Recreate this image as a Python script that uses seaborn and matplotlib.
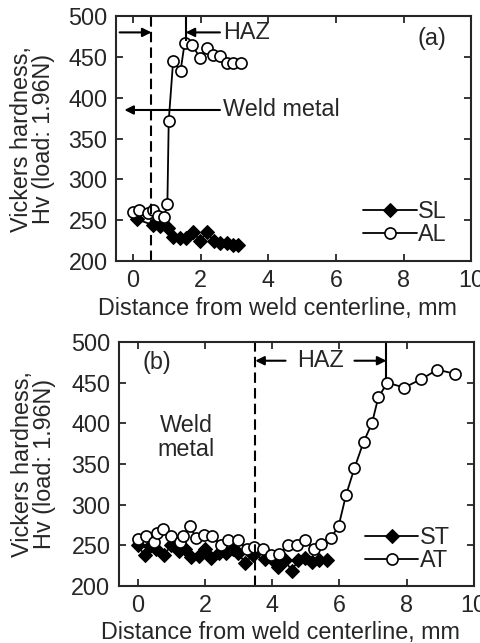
import matplotlib
matplotlib.use("Agg")
import matplotlib.pyplot as plt
import seaborn as sns

# === Data ===
# (a) SL / AL
sl_x = [0.13, 0.6, 0.79, 1.04, 1.19, 1.4, 1.58, 1.78, 1.98, 2.18, 2.4, 2.57, 2.77, 2.97, 3.12]
sl_y = [251, 244, 243, 240, 230, 228, 228, 236, 225, 235, 225, 222, 222, 220, 220]
al_x = [0.0, 0.18, 0.45, 0.6, 0.75, 0.92, 1.02, 1.06, 1.19, 1.41, 1.53, 1.75, 1.98, 2.18, 2.38, 2.57, 2.77, 2.97, 3.2]
al_y = [260, 262, 259, 262, 255, 254, 270, 372, 445, 433, 467, 465, 449, 461, 452, 451, 442, 443, 443]

# (b) ST / AT
st_x = [0.0, 0.21, 0.37, 0.56, 0.78, 1.0, 1.22, 1.42, 1.6, 1.82, 2.0, 2.19, 2.41, 2.63, 2.83, 3.0,
        3.19, 3.42, 3.78, 3.99, 4.19, 4.38, 4.58, 4.78, 4.98, 5.19, 5.41, 5.64]
st_y = [250, 238, 249, 246, 238, 250, 243, 246, 236, 237, 245, 235, 241, 240, 246, 241,
        228, 238, 233, 233, 224, 232, 219, 232, 234, 230, 232, 232]
at_x = [0.0, 0.24, 0.48, 0.58, 0.74, 1.0, 1.25, 1.35, 1.55, 1.74, 1.96, 2.2, 2.48, 2.7, 3.0, 3.24,
        3.47, 3.73, 3.96, 4.2, 4.48, 4.73, 4.98, 5.24, 5.46, 5.75, 5.98, 6.2, 6.45, 6.72, 6.97,
        7.16, 7.43, 7.93, 8.42, 8.92, 9.43]
at_y = [258, 261, 254, 265, 270, 261, 254, 261, 274, 259, 263, 261, 251, 256, 256, 246,
        248, 245, 238, 239, 250, 250, 256, 246, 252, 259, 274, 312, 345, 377, 400,
        432, 450, 444, 454, 466, 461]

# region boundaries (mm)
weld_edge_a, haz_edge_a = 0.55, 1.56
weld_edge_b, haz_edge_b = 3.5, 7.4

FS = 16.8

sns.set_style("ticks")
plt.rcParams["font.family"] = ["Liberation Sans", "DejaVu Sans"]

fig = plt.figure(figsize=(4.81, 6.43), dpi=100)
ax1 = fig.add_axes([0.241, 0.594, 0.739, 0.381])
ax2 = fig.add_axes([0.247, 0.0886, 0.738, 0.3795])

arrow = dict(arrowstyle="-|>", color="black", lw=1.5, mutation_scale=13, shrinkA=0, shrinkB=0)
dash = (0, (5, 2.5))


def draw_pair(ax, dx, dy, dlab, cx, cy, clab):
    sns.lineplot(x=dx, y=dy, ax=ax, sort=False, estimator=None, color="black", lw=1.3,
                 marker="D", markersize=7, markeredgecolor="black", label=dlab)
    sns.lineplot(x=cx, y=cy, ax=ax, sort=False, estimator=None, color="black", lw=1.3,
                 marker="o", markersize=8, markerfacecolor="white", markeredgecolor="black",
                 markeredgewidth=1.2, label=clab)


def style(ax, ylab_x, leg_anchor):
    ax.set_xlim(-0.5, 10)
    ax.set_ylim(200, 500)
    ax.set_xticks(range(0, 11, 2))
    ax.set_yticks(range(200, 501, 50))
    ax.tick_params(direction="in", top=True, right=True, length=5, width=1.3,
                   labelsize=FS, pad=6)
    for s in ax.spines.values():
        s.set_linewidth(1.5)
    ax.set_xlabel("Distance from weld centerline, mm", fontsize=FS)
    ax.set_ylabel("Vickers hardness,\nHv (load: 1.96N)", fontsize=FS, linespacing=0.95)
    ax.xaxis.set_label_coords(0.455, -0.145)
    ax.yaxis.set_label_coords(ylab_x, 0.5)
    ax.legend(loc="lower right", bbox_to_anchor=leg_anchor, frameon=False, fontsize=FS,
              handlelength=2.3, handletextpad=0.05, labelspacing=0.0,
              borderaxespad=0, borderpad=0)


# === (a) ===
draw_pair(ax1, sl_x, sl_y, "SL", al_x, al_y, "AL")
style(ax1, -0.17, (0.93, 0.061))
ax1.axvline(weld_edge_a, color="black", lw=1.5, ls=dash)
ax1.vlines(haz_edge_a, 470, 500, color="black", lw=1.5)
ax1.annotate("", xy=(weld_edge_a, 480), xytext=(-0.39, 480), arrowprops=arrow)
ax1.annotate("HAZ", xy=(haz_edge_a, 480), xytext=(2.67, 480), ha="left", va="center",
             fontsize=FS, arrowprops=arrow)
ax1.annotate("Weld metal", xy=(-0.25, 385), xytext=(2.67, 385), ha="left", va="center",
             fontsize=FS, arrowprops=arrow)
ax1.text(8.83, 472, "(a)", ha="center", va="center", fontsize=FS)

# === (b) ===
draw_pair(ax2, st_x, st_y, "ST", at_x, at_y, "AT")
style(ax2, -0.177, (0.932, 0.057))
ax2.set_xlim(-0.56, 10)
ax2.axvline(weld_edge_b, color="black", lw=1.5, ls=dash)
ax2.vlines(haz_edge_b, 455, 500, color="black", lw=1.5)
ax2.annotate("", xy=(weld_edge_b, 477), xytext=(4.4, 477), arrowprops=arrow)
ax2.annotate("", xy=(haz_edge_b, 477), xytext=(6.45, 477), arrowprops=arrow)
ax2.text(5.45, 477, "HAZ", ha="center", va="center", fontsize=FS)
ax2.text(1.45, 383, "Weld\nmetal", ha="center", va="center", fontsize=FS, linespacing=1.05)
ax2.text(0.56, 475, "(b)", ha="center", va="center", fontsize=FS)

fig.savefig("out.png", dpi=100)
plt.close(fig)
